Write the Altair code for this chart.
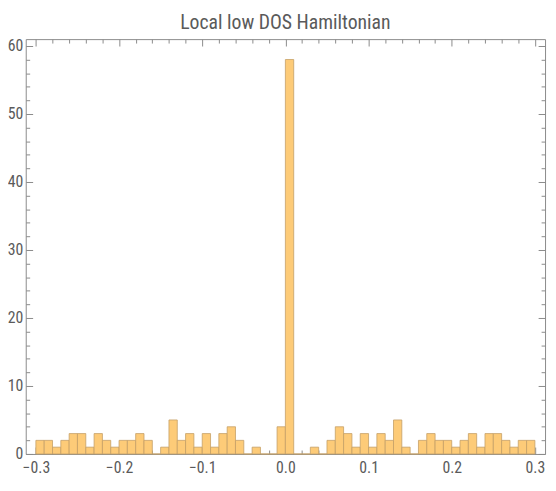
import altair as alt
import pandas as pd

# histogram of local low DOS: bins of width 0.01 from -0.3 to 0.3
bin_start = -0.30
bin_width = 0.01
counts = [2, 2, 1, 2, 3, 3, 1, 3, 2, 1,
          2, 2, 3, 2, 0, 1, 5, 2, 3, 1,
          3, 1, 3, 4, 2, 0, 1, 0, 0, 4,
          58, 0, 0, 1, 0, 2, 4, 3, 1, 3,
          1, 3, 2, 5, 1, 0, 2, 3, 2, 2,
          1, 2, 3, 1, 3, 3, 2, 1, 2, 2]

x_label_values = [-0.3, -0.2, -0.1, 0.0, 0.1, 0.2, 0.3]
x_tick_values = [round(-0.30 + 0.02 * i, 2) for i in range(31)]
y_label_values = [0, 10, 20, 30, 40, 50, 60]
y_tick_values = list(range(0, 61, 2))

df = pd.DataFrame({
    "start": [round(bin_start + i * bin_width, 2) for i in range(len(counts))],
    "end": [round(bin_start + (i + 1) * bin_width, 2) for i in range(len(counts))],
    "count": counts,
})

W, H = 527, 421
FONT = "Liberation Sans Narrow, Roboto Condensed, Liberation Sans"
GRAY = "#8a8a8a"
LBL = "#5a5a5a"

xs = alt.Scale(domain=[-0.3122, 0.3122], nice=False, zero=False)
ys = alt.Scale(domain=[0, 61.0], nice=False)

x_major = "abs(datum.value*10 - round(datum.value*10)) < 0.000001"
y_major = "datum.value % 10 === 0"


def x_tick_axis(orient):
    return alt.Axis(orient=orient, offset=-H, values=x_tick_values, labels=False,
                    domain=False, grid=False, tickColor=GRAY, tickWidth=1,
                    tickSize={"condition": {"test": x_major, "value": 7}, "value": 4},
                    title=None)


def y_tick_axis(orient):
    return alt.Axis(orient=orient, offset=-W, values=y_tick_values, labels=False,
                    domain=False, grid=False, tickColor=GRAY, tickWidth=1,
                    tickSize={"condition": {"test": y_major, "value": 7}, "value": 4},
                    title=None)


base = alt.Chart(df)

bars = base.mark_bar(fill="#FDCB78", stroke="#C4A066", strokeOpacity=0.8,
                     strokeWidth=1).encode(
    x=alt.X("start:Q", scale=xs,
            axis=alt.Axis(orient="bottom", values=x_label_values, format=".1f",
                          ticks=False, domain=False, grid=False, labelPadding=6,
                          labelFont=FONT, labelFontSize=16, labelColor=LBL,
                          title=None)),
    x2="end:Q",
    y=alt.Y("count:Q", scale=ys,
            axis=alt.Axis(orient="left", values=y_label_values, ticks=False,
                          domain=False, grid=False, labelPadding=3,
                          labelFont=FONT, labelFontSize=16, labelColor=LBL,
                          title=None)),
    y2=alt.datum(0),
)

ticks_a = base.mark_bar(opacity=0).encode(
    x=alt.X("start:Q", scale=xs, axis=x_tick_axis("top")),
    x2="end:Q",
    y=alt.Y("count:Q", scale=ys, axis=y_tick_axis("right")),
    y2=alt.datum(0),
)

ticks_b = base.mark_bar(opacity=0).encode(
    x=alt.X("start:Q", scale=xs, axis=x_tick_axis("bottom")),
    x2="end:Q",
    y=alt.Y("count:Q", scale=ys, axis=y_tick_axis("left")),
    y2=alt.datum(0),
)

chart = alt.layer(bars, ticks_a, ticks_b).resolve_axis(
    x="independent", y="independent"
).properties(
    width=W, height=H,
    title=alt.TitleParams("Local low DOS Hamiltonian", font=FONT, fontSize=20,
                          fontWeight="normal", color=LBL, anchor="middle", offset=5),
    autosize=alt.AutoSizeParams(type="none"),
    padding={"left": 18, "top": 28, "right": 3, "bottom": 34},
).configure_view(stroke=GRAY, strokeWidth=1)

chart.save("out.html", embed_options={"renderer": "svg", "actions": False})
